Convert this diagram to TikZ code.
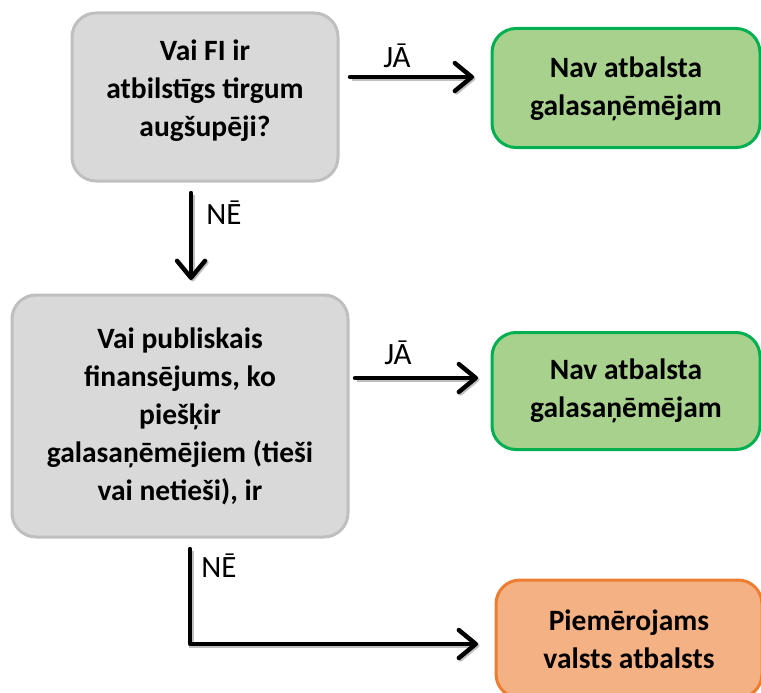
\documentclass[tikz,border=0pt]{standalone}
\usepackage{fontspec}
\setmainfont{Carlito}
\usetikzlibrary{arrows.meta}

\definecolor{qfill}{HTML}{D9D9D9}
\definecolor{qline}{HTML}{BFBFBF}
\definecolor{gfill}{HTML}{A9D18E}
\definecolor{gline}{HTML}{00B050}
\definecolor{ofill}{HTML}{F4B183}
\definecolor{oline}{HTML}{ED7D31}

\tikzset{
  boxtext/.style={align=center, inner sep=0pt,
    font=\fontsize{29.5}{38}\selectfont\bfseries},
  box/.style={rounded corners=24pt, line width=3pt, boxtext},
  question/.style={box, fill=qfill, draw=qline},
  nosupport/.style={box, fill=gfill, draw=gline},
  support/.style={box, fill=ofill, draw=oline},
  flow/.style={line width=4.4pt, line cap=round, line join=round,
    -{Straight Barb[length=17pt, width=28pt, line cap=round, line join=round]},
    preaction={draw=black!25, line width=4.4pt, transform canvas={shift={(1.5pt,-1.5pt)}}}},
  answer/.style={font=\fontsize{31}{36}\selectfont, inner sep=0pt}
}

\begin{document}
\begin{tikzpicture}[x=1pt, y=-1pt]
  \useasboundingbox (0,0) rectangle (761,693);
  \clip (0,0) rectangle (761,693);

  % questions
  \node[question, minimum width=266pt, minimum height=168pt] (q1) at (205,97) {};
  \node[boxtext] (q1t) at (205,91) {Vai FI ir\\atbilstīgs tirgum\\augšupēji?};
  \node[question, minimum width=336pt, minimum height=242pt] (q2) at (180,416)
    {Vai publiskais\\finansējums, ko\\piešķir\\galasaņēmējiem (tieši\\vai netieši), ir};

  % outcomes
  \node[nosupport, minimum width=268pt, minimum height=119pt] (a1) at (626,88) {};
  \node[boxtext] (a1t) at (626,89) {Nav atbalsta\\galasaņēmējam};
  \node[nosupport, minimum width=268pt, minimum height=117pt] (a2) at (626,391)
    {Nav atbalsta\\galasaņēmējam};
  \node[support, minimum width=266pt, minimum height=118pt] (a3) at (629,639)
    {Piemērojams\\valsts atbalsts};

  % connectors
  \coordinate (j1s) at (350,77);
  \coordinate (j1e) at (474,77);
  \draw[flow] (j1s) -- (j1e);
  \node[answer] (l1) at (397,56) {JĀ};

  \coordinate (n1s) at (191,193);
  \coordinate (n1e) at (191,280);
  \draw[flow] (n1s) -- (n1e);
  \node[answer] (l2) at (224,213) {NĒ};

  \coordinate (j2s) at (355,378);
  \coordinate (j2e) at (478,378);
  \draw[flow] (j2s) -- (j2e);
  \node[answer] (l3) at (398,353) {JĀ};

  \coordinate (n2s) at (190,549);
  \coordinate (n2c) at (190,644);
  \coordinate (n2e) at (478,644);
  \draw[flow] (n2s) -- (n2c) -- (n2e);
  \node[answer] (l4) at (219,566) {NĒ};
\end{tikzpicture}
\end{document}
